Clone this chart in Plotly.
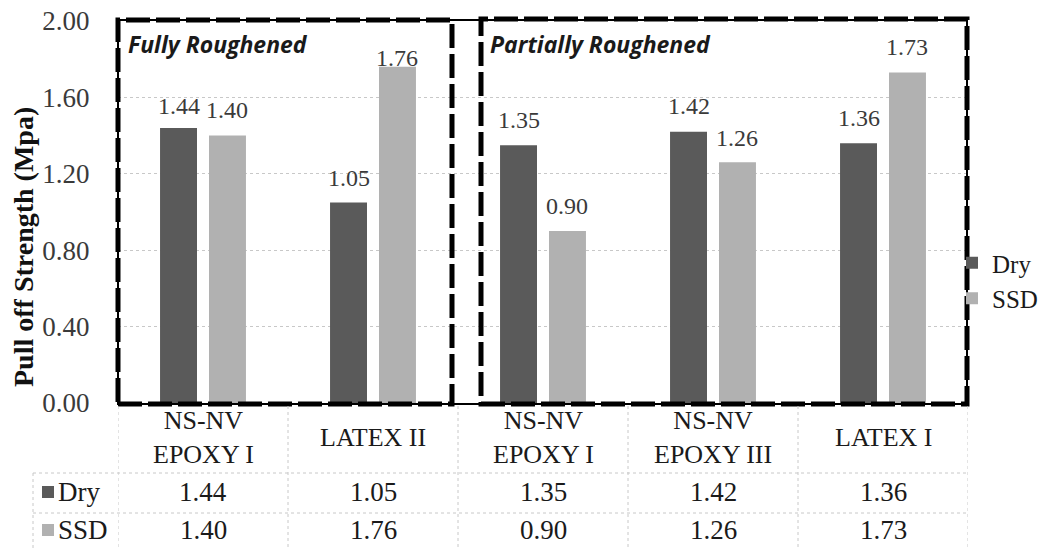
import plotly.graph_objects as go

categories = ["NS-NV<br>EPOXY I", "LATEX II", "NS-NV<br>EPOXY I", "NS-NV<br>EPOXY III", "LATEX I"]
dry = [1.44, 1.05, 1.35, 1.42, 1.36]
ssd = [1.40, 1.76, 0.90, 1.26, 1.73]
series_names = ["Dry", "SSD"]
y_ticks = [0.0, 0.4, 0.8, 1.2, 1.6, 2.0]
group_labels = ["Fully Roughened", "Partially Roughened"]
y_title = "Pull off Strength (Mpa)"

# label gap above each bar (pixels) - style only
dry_label_gap = [15, 17, 18, 19, 18]
ssd_label_gap = [19, 2, 18, 17, 19]

W, H = 1046, 548
L, R, T, B = 118, 968, 21, 403
SERIF = "Liberation Serif, Times New Roman, serif"
C_DRY = "#5a5a5a"
C_SSD = "#b1b1b1"
GRID = "#c8c8c8"
BARGAP = 0.424
GROUPGAP = 0.245


def px_x(p):
    return (p - L) / (R - L)


def px_y(p):
    return (B - p) / (B - T)


x_idx = list(range(len(categories)))

fig = go.Figure()
fig.add_trace(go.Bar(x=x_idx, y=dry, name=series_names[0],
                     marker=dict(color=C_DRY, line=dict(width=0))))
fig.add_trace(go.Bar(x=x_idx, y=ssd, name=series_names[1],
                     marker=dict(color=C_SSD, line=dict(width=0))))

shapes = []
annotations = []

# value labels above bars
off = (1 - BARGAP) / 4
lab_font = dict(family=SERIF, size=24, color="#3a3a3a")
for i in x_idx:
    for vals, gaps, sgn in [(dry, dry_label_gap, -1), (ssd, ssd_label_gap, 1)]:
        annotations.append(dict(text=f"{vals[i]:.2f}", xref="x", yref="y", x=i + sgn * off, y=vals[i],
                                xanchor="center", yanchor="bottom", yshift=gaps[i] - 8,
                                showarrow=False, font=lab_font))

# plot-area border and dashed group boxes
shapes.append(dict(type="rect", xref="paper", yref="paper", x0=px_x(118), x1=px_x(967),
                   y0=px_y(404), y1=px_y(20), line=dict(color="black", width=2)))
box_line = dict(color="black", width=5, dash="24px,6px")
shapes.append(dict(type="rect", xref="paper", yref="paper",
                   x0=px_x(118), x1=px_x(452), y0=px_y(404), y1=px_y(20), line=box_line))
shapes.append(dict(type="rect", xref="paper", yref="paper",
                   x0=px_x(481), x1=px_x(967), y0=px_y(404), y1=px_y(19), line=box_line))

gfont = dict(family="Open Sans, Noto Sans, sans-serif", size=23, color="#1a1a1a")
annotations.append(dict(text=f"<b><i>{group_labels[0]}</i></b>", xref="paper", yref="paper",
                        x=px_x(126), y=px_y(44), xanchor="left", yanchor="middle",
                        showarrow=False, font=gfont))
annotations.append(dict(text=f"<b><i>{group_labels[1]}</i></b>", xref="paper", yref="paper",
                        x=px_x(488), y=px_y(44), xanchor="left", yanchor="middle",
                        showarrow=False, font=gfont))

# y-axis title
annotations.append(dict(text=f"<b>{y_title}</b>", xref="paper", yref="paper",
                        x=px_x(23), y=px_y(247), xanchor="center", yanchor="middle",
                        textangle=-90, showarrow=False,
                        font=dict(family=SERIF, size=28, color="#111111")))

# data table grid
tbl_line = dict(color=GRID, width=1, dash="dot")
for i in range(len(categories) + 1):
    shapes.append(dict(type="line", xref="x", yref="paper", x0=i - 0.5, x1=i - 0.5,
                       y0=px_y(406), y1=px_y(548), line=tbl_line))
shapes.append(dict(type="line", xref="paper", yref="paper", x0=px_x(33), x1=px_x(33),
                   y0=px_y(473), y1=px_y(548), line=tbl_line))
for yy in [473, 513]:
    shapes.append(dict(type="line", xref="paper", yref="paper", x0=px_x(33), x1=px_x(968),
                       y0=px_y(yy), y1=px_y(yy), line=tbl_line))

tfont = dict(family=SERIF, size=27, color="#1a1a1a")
hfont = dict(family=SERIF, size=26, color="#1a1a1a")
for i, c in enumerate(categories):
    annotations.append(dict(text=c, xref="x", yref="paper", x=i, y=px_y(438),
                            xanchor="center", yanchor="middle", showarrow=False, font=hfont))
    annotations.append(dict(text=f"{dry[i]:.2f}", xref="x", yref="paper", x=i, y=px_y(492),
                            xanchor="center", yanchor="middle", showarrow=False, font=tfont))
    annotations.append(dict(text=f"{ssd[i]:.2f}", xref="x", yref="paper", x=i, y=px_y(530),
                            xanchor="center", yanchor="middle", showarrow=False, font=tfont))

for name, col, yc in [(series_names[0], C_DRY, 492), (series_names[1], C_SSD, 530)]:
    shapes.append(dict(type="rect", xref="paper", yref="paper", x0=px_x(42), x1=px_x(54),
                       y0=px_y(yc + 6), y1=px_y(yc - 6), fillcolor=col, line=dict(width=0)))
    annotations.append(dict(text=name, xref="paper", yref="paper", x=px_x(56), y=px_y(yc),
                            xanchor="left", yanchor="middle", showarrow=False, font=tfont))

fig.update_layout(
    width=W, height=H,
    margin=dict(l=L, r=W - R, t=T, b=H - B, pad=0, autoexpand=False),
    paper_bgcolor="white", plot_bgcolor="white",
    barmode="group", bargap=BARGAP, bargroupgap=GROUPGAP,
    showlegend=True,
    legend=dict(x=px_x(952), y=px_y(240), xanchor="left", yanchor="top",
                bgcolor="rgba(0,0,0,0)", font=dict(family=SERIF, size=25, color="#1a1a1a"),
                itemwidth=30, tracegroupgap=0, traceorder="normal"),
    shapes=shapes, annotations=annotations,
    font=dict(family=SERIF, color="#333333"),
)
fig.update_xaxes(range=[-0.5, len(categories) - 0.5], showticklabels=False, showgrid=False,
                 zeroline=False, showline=False, ticks="")
fig.update_yaxes(range=[0, 2.0], tickvals=y_ticks, tickformat=".2f", showgrid=True,
                 gridcolor=GRID, griddash="dot", gridwidth=1, zeroline=False, showline=False,
                 ticks="outside", ticklen=22, tickcolor="rgba(0,0,0,0)",
                 tickfont=dict(family=SERIF, size=27, color="#3a3a3a"))

fig.write_html("out.html", config={"displayModeBar": False},
               post_script="document.body.style.margin='0';document.body.style.overflow='hidden';")
